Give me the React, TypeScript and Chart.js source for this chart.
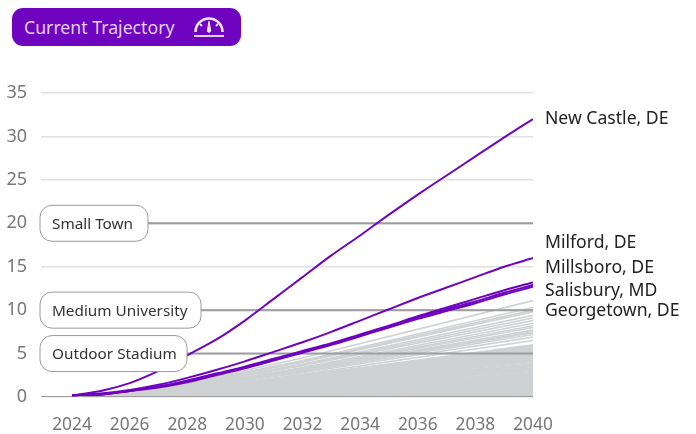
import React, { useEffect, useRef } from "react";
import { Chart, registerables } from "chart.js";

Chart.register(...registerables);

const FONT = '"Noto Sans", sans-serif';
const years = [2024, 2025, 2026, 2027, 2028, 2029, 2030, 2031, 2032, 2033, 2034, 2035, 2036, 2037, 2038, 2039, 2040];
const newCastle = [0.2, 0.7, 1.6, 3.0, 4.8, 6.6, 8.8, 11.3, 13.8, 16.3, 18.6, 21.0, 23.3, 25.5, 27.7, 29.9, 32.0];
const milford = [0.2, 0.4, 0.8, 1.4, 2.2, 3.1, 4.1, 5.2, 6.3, 7.5, 8.8, 10.1, 11.4, 12.6, 13.8, 15.0, 16.0];
const millsboro = [0.2, 0.3, 0.7, 1.2, 1.9, 2.7, 3.5, 4.4, 5.3, 6.2, 7.2, 8.2, 9.3, 10.3, 11.3, 12.3, 13.2];
const salisbury = [0.2, 0.3, 0.7, 1.2, 1.8, 2.6, 3.4, 4.3, 5.2, 6.1, 7.1, 8.1, 9.2, 10.1, 11.0, 12.0, 12.9];
const georgetown = [0.2, 0.3, 0.7, 1.1, 1.7, 2.5, 3.3, 4.2, 5.1, 6.0, 7.0, 8.0, 9.0, 9.9, 10.8, 11.8, 12.7];
const highlighted = [newCastle, milford, millsboro, salisbury, georgetown];

const grayYears = [2024, 2026, 2028, 2032, 2040];
const grayLines = [
  [0.2, 0.6, 1.6, 4.5, 11.1], [0.2, 0.6, 1.5, 4.2, 10.3], [0.2, 0.5, 1.5, 4.1, 10.0], [0.2, 0.6, 1.5, 4.0, 9.8],
  [0.2, 0.5, 1.4, 3.8, 9.4], [0.2, 0.5, 1.3, 3.7, 9.1], [0.2, 0.5, 1.3, 3.6, 8.8], [0.2, 0.5, 1.2, 3.4, 8.5],
  [0.2, 0.5, 1.2, 3.3, 8.2], [0.2, 0.4, 1.1, 3.2, 8.0], [0.2, 0.4, 1.1, 3.1, 7.7], [0.2, 0.4, 1.1, 3.1, 7.5],
  [0.2, 0.4, 1.1, 3.0, 7.4], [0.2, 0.4, 1.0, 2.9, 7.2], [0.2, 0.4, 1.0, 2.8, 6.9], [0.2, 0.4, 0.9, 2.6, 6.5],
  [0.1, 0.4, 0.9, 2.5, 6.0], [0.1, 0.3, 0.9, 2.4, 5.9], [0.1, 0.3, 0.8, 2.4, 5.8], [0.1, 0.3, 0.8, 2.3, 5.7],
  [0.1, 0.3, 0.8, 2.3, 5.6], [0.1, 0.3, 0.8, 2.2, 5.5], [0.1, 0.3, 0.8, 2.2, 5.4], [0.1, 0.3, 0.8, 2.1, 5.3],
  [0.1, 0.3, 0.7, 2.1, 5.2], [0.1, 0.3, 0.7, 2.0, 5.1], [0.1, 0.3, 0.7, 2.0, 5.0], [0.1, 0.3, 0.7, 2.0, 4.9],
  [0.1, 0.3, 0.7, 1.9, 4.8], [0.1, 0.3, 0.7, 1.9, 4.7], [0.1, 0.3, 0.7, 1.9, 4.6], [0.1, 0.3, 0.6, 1.8, 4.5],
  [0.1, 0.2, 0.6, 1.8, 4.4], [0.1, 0.2, 0.6, 1.7, 4.3], [0.1, 0.2, 0.6, 1.7, 4.2], [0.1, 0.2, 0.6, 1.6, 4.1],
  [0.1, 0.2, 0.6, 1.6, 3.95], [0.1, 0.2, 0.5, 1.5, 3.8], [0.1, 0.2, 0.5, 1.5, 3.7], [0.1, 0.2, 0.5, 1.4, 3.6],
  [0.1, 0.2, 0.5, 1.4, 3.5], [0.1, 0.2, 0.5, 1.3, 3.35], [0.1, 0.2, 0.5, 1.3, 3.25], [0.1, 0.2, 0.4, 1.25, 3.15],
  [0.1, 0.2, 0.4, 1.2, 3.05], [0.1, 0.2, 0.4, 1.2, 2.95], [0.1, 0.2, 0.4, 1.1, 2.8], [0.1, 0.2, 0.4, 1.1, 2.7],
  [0.1, 0.1, 0.4, 1.05, 2.6], [0.1, 0.1, 0.35, 1.0, 2.5], [0.1, 0.1, 0.35, 0.95, 2.4], [0.1, 0.1, 0.3, 0.9, 2.3],
  [0.1, 0.1, 0.3, 0.9, 2.2], [0.05, 0.1, 0.3, 0.85, 2.1], [0.05, 0.1, 0.3, 0.8, 2.0], [0.05, 0.1, 0.3, 0.75, 1.9],
  [0.05, 0.1, 0.25, 0.7, 1.8], [0.05, 0.1, 0.25, 0.7, 1.7], [0.05, 0.1, 0.2, 0.65, 1.6], [0.05, 0.1, 0.2, 0.6, 1.5],
  [0.05, 0.1, 0.2, 0.55, 1.4], [0.05, 0.1, 0.2, 0.5, 1.3], [0.05, 0.1, 0.2, 0.5, 1.2], [0.05, 0.05, 0.15, 0.45, 1.1],
  [0.05, 0.05, 0.15, 0.4, 1.0], [0.05, 0.05, 0.15, 0.35, 0.9], [0.05, 0.05, 0.1, 0.3, 0.8], [0.05, 0.05, 0.1, 0.3, 0.7],
  [0.05, 0.05, 0.1, 0.25, 0.6], [0.05, 0.05, 0.1, 0.2, 0.5], [0.05, 0.05, 0.05, 0.15, 0.4], [0.05, 0.05, 0.05, 0.12, 0.3],
  [0.05, 0.05, 0.05, 0.1, 0.2], [0.05, 0.05, 0.05, 0.07, 0.1],
];

const yTicks = [0, 5, 10, 15, 20, 25, 30, 35];
const referenceNames = ["Small Town", "Medium University", "Outdoor Stadium"];
const referenceValues = [20, 10, 5];
const referenceWidths = [108, 161, 147];
const baseline = [0];
const endNames = ["New Castle, DE", "Milford, DE", "Millsboro, DE", "Salisbury, MD", "Georgetown, DE"];
const endLabelValues = [32.0, 17.7, 14.9, 12.2, 9.85];

const X_MIN = 2022.924;
const X_MAX = 2040;
const PURPLE = "#6f04c0";

const overlay = {
  id: "overlay",
  afterDatasetsDraw(chart: any) {
    const { ctx, scales } = chart;
    const y = scales.y;
    ctx.save();
    referenceNames.forEach((name, i) => {
      const cy = y.getPixelForValue(referenceValues[i]);
      ctx.beginPath();
      ctx.roundRect(40, cy - 18, referenceWidths[i], 36, 12);
      ctx.fillStyle = "#ffffff";
      ctx.fill();
      ctx.lineWidth = 1;
      ctx.strokeStyle = "#9a9a9a";
      ctx.stroke();
      ctx.fillStyle = "#333333";
      ctx.font = `15.3px ${FONT}`;
      ctx.textAlign = "left";
      ctx.textBaseline = "middle";
      ctx.fillText(name, 52, cy + 1);
    });
    endNames.forEach((name, i) => {
      ctx.fillStyle = "#222222";
      ctx.font = `17.6px ${FONT}`;
      ctx.textAlign = "left";
      ctx.textBaseline = "middle";
      ctx.fillText(name, 545, y.getPixelForValue(endLabelValues[i]));
    });
    ctx.restore();
  },
};

export default function App() {
  const ref = useRef<HTMLCanvasElement | null>(null);
  useEffect(() => {
    document.body.style.margin = "0";
    const purple = highlighted.map((vals) => ({
      data: vals.map((v, i) => ({ x: years[i], y: v })),
      borderColor: PURPLE,
      borderWidth: 2,
      pointRadius: 0,
      tension: 0.25,
    }));
    const refs = [...referenceValues, ...baseline].map((v) => ({
      data: [{ x: X_MIN, y: v }, { x: X_MAX, y: v }],
      borderColor: "#9d9d9d",
      borderWidth: 2,
      pointRadius: 0,
    }));
    const gray = grayLines.map((vals) => ({
      data: vals.map((v, i) => ({ x: grayYears[i], y: v })),
      borderColor: "#cfd2d3",
      borderWidth: 1.6,
      pointRadius: 0,
      tension: 0,
    }));
    const chart = new Chart(ref.current as HTMLCanvasElement, {
      type: "line",
      data: { datasets: [...purple, ...refs, ...gray] },
      options: {
        animation: false,
        responsive: false,
        layout: { padding: { top: 93, right: 163, left: 0, bottom: 0 } },
        plugins: { legend: { display: false }, tooltip: { enabled: false } },
        scales: {
          x: {
            type: "linear",
            min: X_MIN,
            max: X_MAX,
            grid: { display: false },
            border: { display: false },
            afterFit: (s: any) => { s.height = 37; },
            ticks: {
              stepSize: 2,
              includeBounds: false,
              maxRotation: 0,
              padding: 10,
              color: "#777777",
              font: { family: FONT, size: 17.3 },
              callback: (v: any) => String(v),
            },
          },
          y: {
            min: 0,
            max: 35,
            afterFit: (s: any) => { s.width = 41; },
            afterBuildTicks: (s: any) => { s.ticks = yTicks.map((v) => ({ value: v })); },
            grid: { color: "#e0e0e0", lineWidth: 1.5, drawTicks: false },
            border: { display: false },
            ticks: {
              padding: 14,
              color: "#777777",
              font: { family: FONT, size: 18 },
            },
          },
        },
      },
      plugins: [overlay],
    } as any);
    return () => chart.destroy();
  }, []);

  return (
    <div style={{ position: "relative", width: 696, height: 434, overflow: "hidden" }}>
      <canvas ref={ref} width={696} height={434} style={{ display: "block" }} />
      <div
        style={{
          position: "absolute", left: 12, top: 8, width: 229, height: 38, borderRadius: 11,
          background: PURPLE, color: "#e2cff5", fontFamily: FONT, fontSize: 17.7,
          lineHeight: "38px", paddingLeft: 12, boxSizing: "border-box",
        }}
      >
        Current Trajectory
        <svg width="32" height="24" viewBox="0 0 32 24" style={{ position: "absolute", left: 181, top: 7 }} fill="none" stroke="#f1e6fb">
          <path d="M2.5 17 A13.5 13.5 0 0 1 29.5 17" strokeWidth="2.6" />
          <path d="M1 21 H31" strokeWidth="1.8" />
          <path d="M7 9 L9 11 M25 9 L23 11" strokeWidth="1.8" />
          <path d="M16 6 L17.7 16 A1.8 1.8 0 0 1 14.3 16 Z" fill="#f1e6fb" strokeWidth="1" />
        </svg>
      </div>
    </div>
  );
}
